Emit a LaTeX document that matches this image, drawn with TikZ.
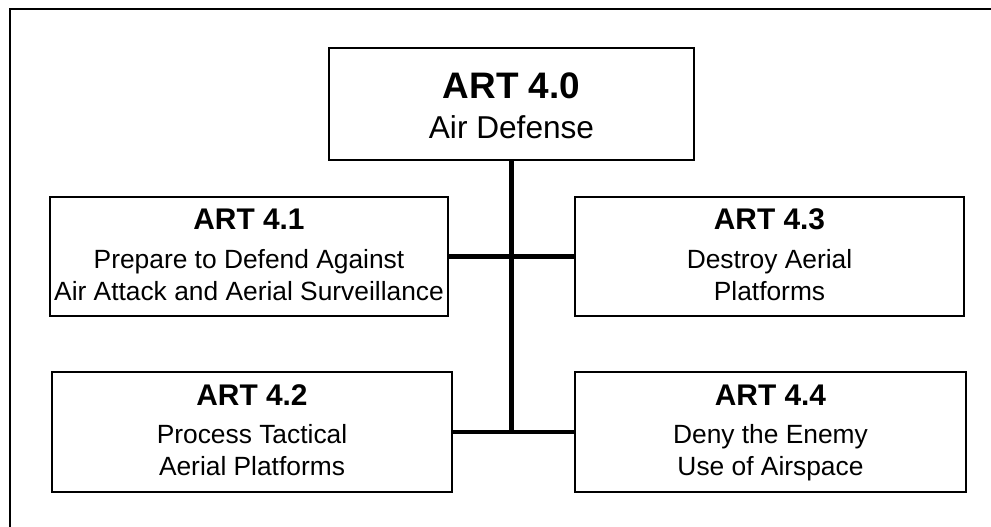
\documentclass[tikz,border=0pt]{standalone}
\usepackage{fontspec}
\setmainfont{Liberation Sans}
\usetikzlibrary{positioning}

\newcommand{\arttitle}[1]{{\fontsize{17}{20}\selectfont\bfseries\rule{0pt}{15pt}#1}}

\begin{document}
\begin{tikzpicture}[x=0.02cm, y=-0.02cm,
    artbox/.style = {draw, line width=1.1pt, align=center, inner sep=0pt,
                     font=\fontsize{15}{18}\selectfont},
    link/.style = {line width=2.3pt}]
    \useasboundingbox (0,0) rectangle (991,527);
    \draw[line width=1.7pt] (10,527) -- (10,9) -- (991,9);

    \node[artbox, minimum width=7.3cm, minimum height=2.24cm] (airdef) at (511.5,104)
        {{\fontsize{21}{24}\selectfont\bfseries\rule{0pt}{23pt}ART 4.0}\\[5pt]
         {\fontsize{18}{21}\selectfont Air Defense\strut}};
    \node[artbox, minimum width=7.96cm, minimum height=2.38cm] (prepare) at (249,256.5)
        {\arttitle{ART 4.1}\\[4pt] Prepare to Defend Against\\ Air Attack and Aerial Surveillance\strut};
    \node[artbox, minimum width=7.78cm, minimum height=2.38cm] (destroy) at (769.5,256.5)
        {\arttitle{ART 4.3}\\[4pt] Destroy Aerial\\ Platforms\strut};
    \node[artbox, minimum width=8cm, minimum height=2.4cm] (process) at (252,432)
        {\arttitle{ART 4.2}\\[4pt] Process Tactical\\ Aerial Platforms\strut};
    \node[artbox, minimum width=7.82cm, minimum height=2.4cm] (deny) at (770.5,432)
        {\arttitle{ART 4.4}\\[4pt] Deny the Enemy\\ Use of Airspace\strut};

    \draw[link] (airdef.south) -- (airdef.south |- deny.west);
    \draw[link] (prepare.east) -- (destroy.west);
    \draw[link] (process.east) -- (deny.west);
\end{tikzpicture}
\end{document}
